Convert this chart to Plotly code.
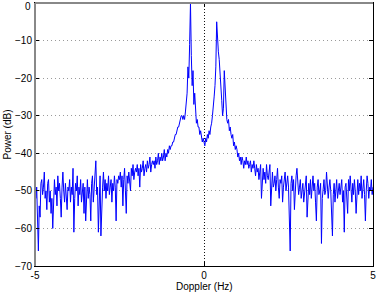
import numpy as np
import plotly.graph_objects as go

# Doppler axis range and sampling
doppler_min = -5.0
doppler_max = 5.0

# Power spectrum (dB), 0.025 Hz spacing from -5 to 5 Hz
power_db = [
    -46, -52, -49, -55, -66, -54, -57, -48, -47, -51, -49, -45, -52, -50, -55, -48, -47, -53, -50, -56,
    -52, -60, -50, -47, -51, -49, -54, -46, -50, -48, -52, -57, -49, -45, -50, -53, -48, -51, -55, -49,
    -50, -47, -53, -49, -51, -44, -61, -52, -48, -50, -46, -54, -49, -51, -47, -53, -50, -48, -56, -49,
    -58, -50, -47, -52, -49, -51, -58, -48, -46, -53, -50, -47, -42, -51, -49, -61, -50, -46, -62, -52,
    -49, -45, -50, -47, -52, -48, -50, -46, -51, -49, -47, -53, -48, -50, -46, -49, -58, -47, -48, -46,
    -47, -45, -49, -46, -54, -47, -44, -50, -56, -46, -48, -45, -47, -50, -44, -46, -43, -47, -45, -44,
    -45, -43, -46, -44, -49, -43, -45, -44, -42, -46, -44, -43, -45, -42, -44, -43, -41, -45, -43, -42,
    -43, -42, -44, -41, -43, -42, -40, -43, -41, -42, -40, -42, -41, -39, -42, -40, -41, -39, -40, -38,
    -39, -38, -38, -37, -37, -36, -35, -35, -34, -33, -33, -32, -31, -30, -30, -31, -30, -31, -29, -27,
    -24, -17, -20, -11, 0, -14, -22, -18, -27, -24, -30, -32, -31, -33, -33, -35, -34, -36, -37, -36,
    -37, -38, -36, -37, -35, -36, -34, -35, -33, -32, -30, -28, -25, -22, -17, -5, -10, -13, -15, -20,
    -22, -26, -30, -28, -18, -24, -30, -31, -32, -31, -34, -33, -35, -36, -35, -38, -37, -39, -38, -39,
    -41, -40, -42, -41, -43, -41, -42, -44, -42, -43, -41, -43, -42, -44, -43, -42, -45, -43, -44, -42,
    -44, -46, -43, -45, -44, -47, -45, -43, -52, -46, -44, -47, -45, -48, -43, -46, -47, -45, -43, -54,
    -47, -45, -49, -48, -46, -50, -47, -44, -49, -52, -47, -48, -46, -53, -49, -47, -45, -50, -48, -46,
    -49, -56, -66, -48, -46, -50, -47, -55, -49, -46, -44, -47, -51, -49, -47, -52, -50, -48, -53, -50,
    -49, -46, -57, -50, -48, -51, -47, -52, -49, -46, -50, -48, -53, -58, -49, -47, -51, -50, -48, -64,
    -52, -49, -47, -51, -50, -45, -48, -52, -49, -47, -50, -60, -62, -51, -48, -53, -49, -47, -52, -50,
    -48, -51, -49, -47, -53, -50, -61, -49, -48, -52, -56, -47, -50, -46, -49, -53, -48, -51, -47, -50,
    -56, -49, -47, -51, -48, -50, -46, -52, -49, -47, -51, -58, -50, -46, -48, -52, -49, -50, -47, -51,
    -49,
]
doppler_hz = np.linspace(doppler_min, doppler_max, len(power_db))

x_ticks = [-5, 0, 5]
y_ticks = [-70, -60, -50, -40, -30, -20, -10, 0]
y_tick_text = ["\u221270", "\u221260", "\u221250", "\u221240", "\u221230", "\u221220", "\u221210", ""]

font = dict(family="Liberation Sans, Arial, Helvetica, sans-serif", size=10, color="black")

W, H = 376, 293
ML, MR, MT, MB = 35, 3, 3, 27
PW, PH = W - ML - MR, H - MT - MB

fig = go.Figure()
fig.add_trace(go.Scatter(
    x=doppler_hz, y=power_db, mode="lines",
    line=dict(color="#0000ff", width=1),
    showlegend=False, hoverinfo="skip",
))

fig.update_layout(
    width=W, height=H,
    margin=dict(l=ML, r=MR, t=MT, b=MB, autoexpand=False),
    paper_bgcolor="white", plot_bgcolor="white",
    font=font,
    showlegend=False,
)
fig.update_xaxes(
    range=[doppler_min, doppler_max],
    tickvals=x_ticks, ticktext=[str(v) for v in x_ticks],
    ticks="inside", ticklen=4, tickcolor="black",
    showline=True, linecolor="black", linewidth=1, mirror="ticks",
    showgrid=True, gridcolor="#111111", griddash="1px,2px", gridwidth=1,
    zeroline=False, automargin=False, ticklabeloverflow="allow",
    tickfont=font,
)
fig.update_yaxes(
    range=[-70, 0],
    tickvals=y_ticks, ticktext=y_tick_text,
    ticks="inside", ticklen=4, tickcolor="black",
    showline=True, linecolor="black", linewidth=1, mirror="ticks",
    showgrid=True, gridcolor="#9a9a9a", griddash="1px,3px", gridwidth=1,
    zeroline=False, automargin=False, ticklabeloverflow="allow",
    tickfont=font,
)
# top "0" tick label placed fully inside the page
fig.add_annotation(text=str(y_ticks[-1]), xref="paper", yref="y",
                   x=0, y=y_ticks[-1], xanchor="right", yanchor="top",
                   xshift=-2, yshift=4, showarrow=False, font=font)
# axis titles
fig.add_annotation(text="Doppler (Hz)", xref="paper", yref="paper",
                   x=0.5, y=-(286.5 - (MT + PH)) / PH, xanchor="center", yanchor="middle",
                   showarrow=False, font=font)
fig.add_annotation(text="Power (dB)", xref="paper", yref="paper",
                   x=-(ML - 7) / PW, y=0.5, xanchor="center", yanchor="middle",
                   textangle=-90, showarrow=False, font=font)
# gray top and left edges as in the reference rendering
fig.add_shape(type="line", xref="paper", yref="paper", x0=0, x1=1, y0=1, y1=1,
              line=dict(color="#888888", width=2))
fig.add_shape(type="line", xref="paper", yref="paper", x0=0, x1=0, y0=0, y1=1,
              line=dict(color="#888888", width=2))

fig.write_html("out.html",
               config={"displayModeBar": False},
               post_script="document.body.style.margin='0';document.body.style.padding='0';")
